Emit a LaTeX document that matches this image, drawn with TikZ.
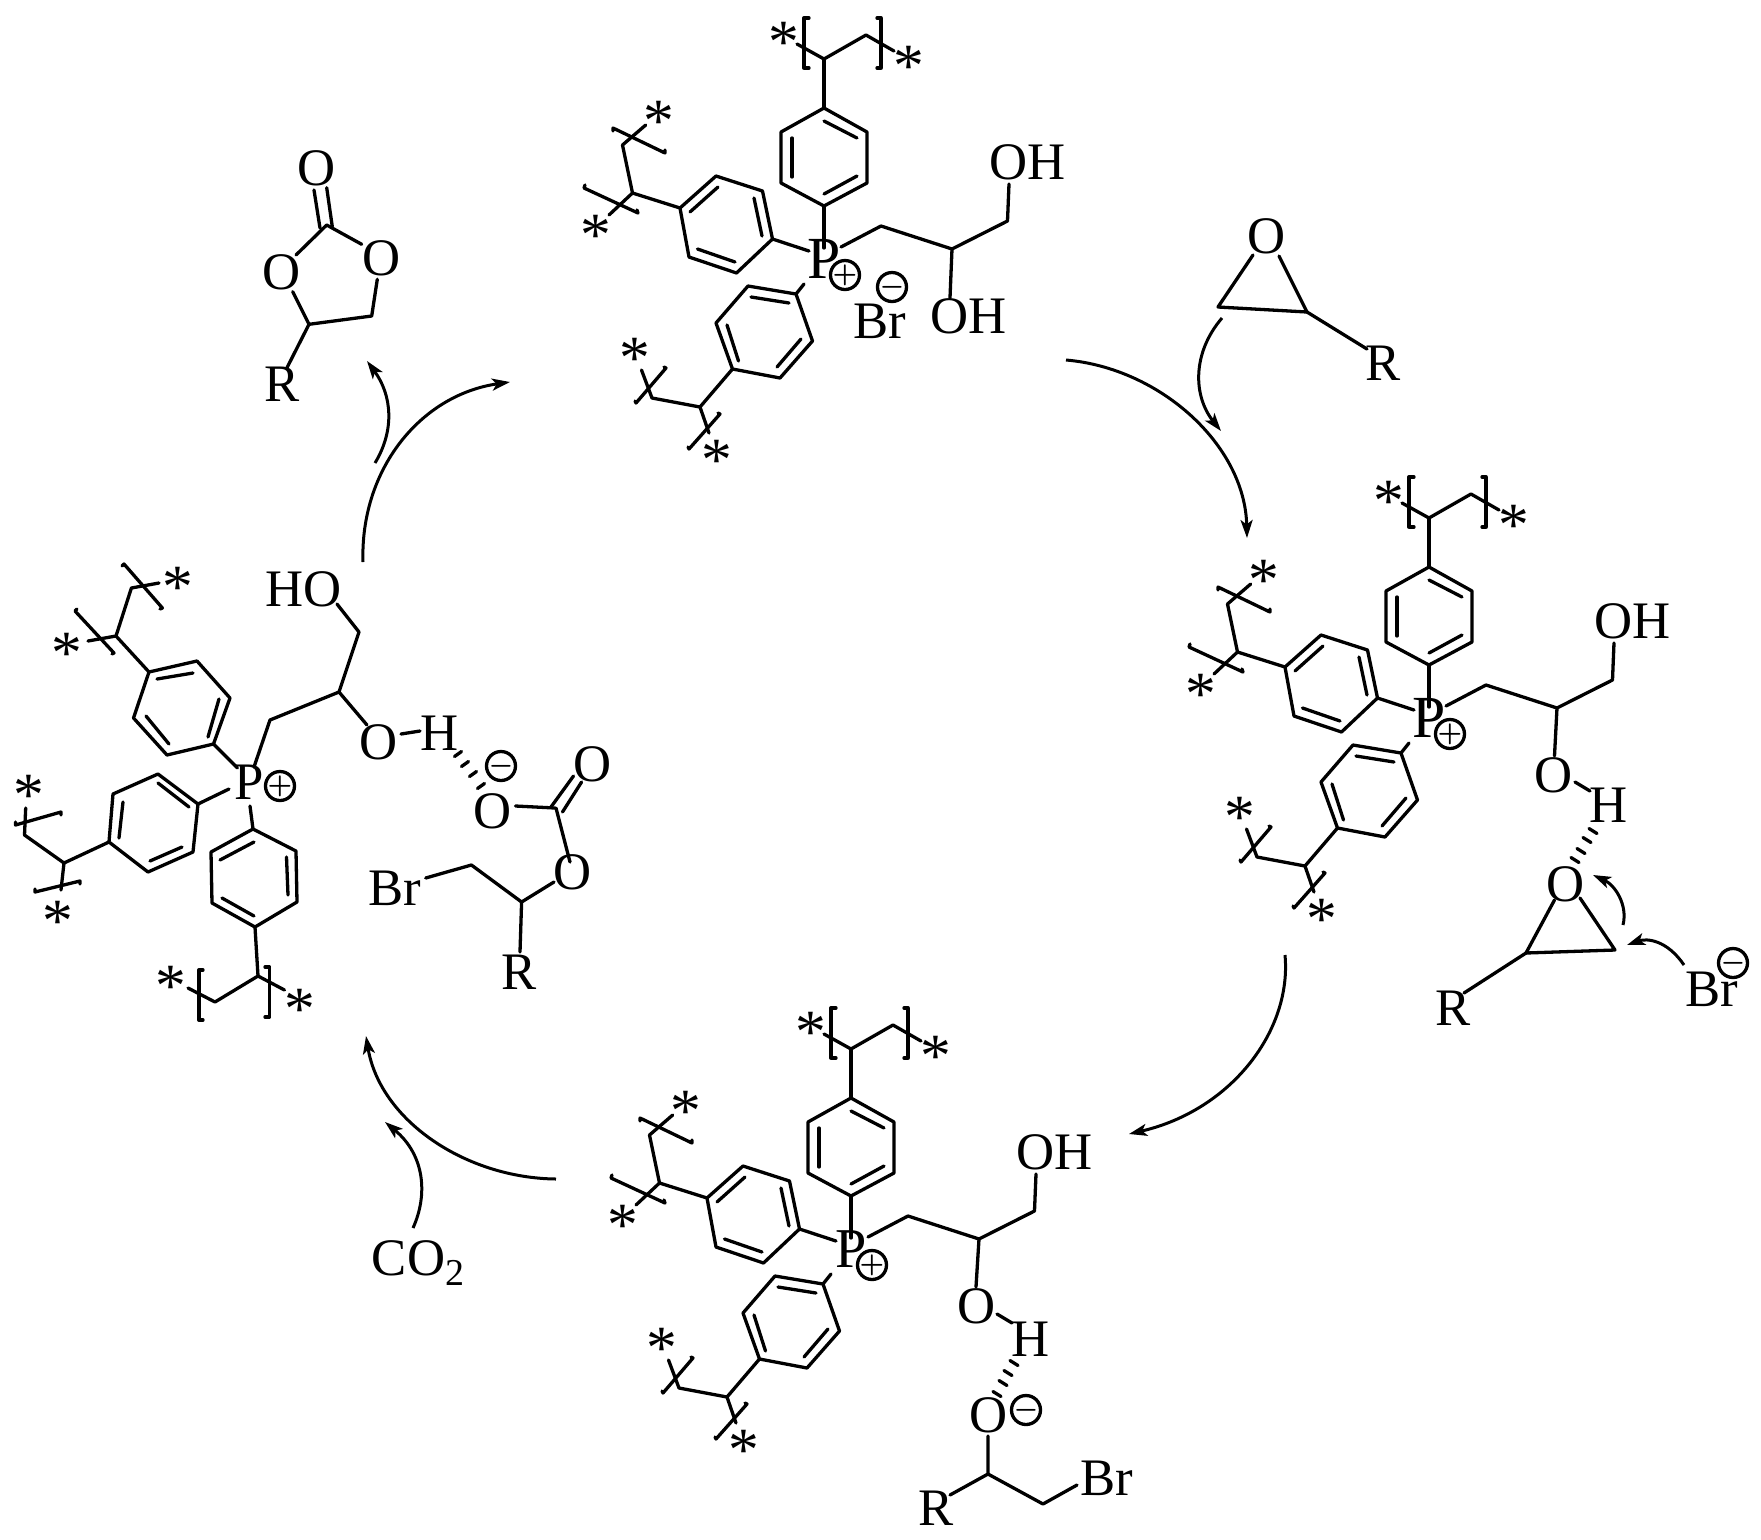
\documentclass[tikz,border=0pt]{standalone}
\usepackage{fontspec}
\setmainfont{Liberation Serif}
\usetikzlibrary{arrows.meta}
\tikzset{
  bond/.style={line width=0.33mm,line cap=round,line join=round},
  rxn/.style={line width=0.3mm,-{Stealth[length=1.8mm,width=1.2mm,inset=0.45mm]}},
  atom/.style={inner sep=0pt,font=\fontsize{15}{17}\selectfont},
  star/.style={inner sep=0pt,yshift=-0.9mm,font=\fontsize{17.5}{20}\selectfont},
  charge/.style={circle,draw,line width=0.33mm,inner sep=-2pt,minimum size=2.9mm,font=\fontsize{7.5}{9}\selectfont\boldmath}
}
\newcommand{\phosunit}[3]{%
  \begin{scope}[shift={(#2)}]
    \draw[bond] (797,44) -- (824,59) -- (866,35) -- (894,51);
    \draw[bond] (809,18) -- (804,18) -- (804,68) -- (809,68);
    \draw[bond] (877,18) -- (881,18) -- (881,68) -- (877,68);
    \draw[bond] (824,59) -- (824,108);
    \draw[bond] (824,108) -- (867,132) -- (867,183) -- (824,206) -- (781,183) -- (781,132) -- cycle;
    \draw[bond] (824,121) -- (857,138);
    \draw[bond] (857,176) -- (824,194);
    \draw[bond] (792,138) -- (792,177);
    \draw[bond] (824,206) -- (824,248);
    \draw[bond] (809,251) -- (772.5,239);
    \draw[bond] (772.5,239) -- (762.5,191) -- (716,176) -- (680,208) -- (689,257) -- (736.5,273) -- cycle;
    \draw[bond] (754,198) -- (762,236);
    \draw[bond] (697.5,249) -- (735,262);
    \draw[bond] (690,212) -- (718,187);
    \draw[bond] (680,208) -- (632.5,193);
    \draw[bond] (609,215) -- (632.5,193) -- (622.5,145) -- (645.7,125);
    \draw[bond] (585,185) -- (584,188) -- (638,213) -- (637,210);
    \draw[bond] (613,131) -- (613,128) -- (665,153) -- (665,150);
    \draw[bond] (804,284) -- (796,294);
    \draw[bond] (796,294) -- (748,286) -- (716,323) -- (732.5,369) -- (780,378) -- (812.5,341) -- cycle;
    \draw[bond] (751,297) -- (789,303);
    \draw[bond] (727,325) -- (738.5,361);
    \draw[bond] (777,367) -- (801,339);
    \draw[bond] (732.5,369) -- (700,407) -- (652,398) -- (641.5,370);
    \draw[bond] (700,407) -- (709,433);
    \draw[bond] (635,401) -- (636,403) -- (666,368) -- (664,367);
    \draw[bond] (688,447) -- (689,449) -- (720,414) -- (718,413);
    \draw[bond] (841,247) -- (881,226) -- (952,249) -- (1007.5,221) -- (1009,184);
    \node[star] (#1stara) at (784,33) {*};
    \node[star] (#1starb) at (909,57) {*};
    \node[star] (#1starc) at (659,112) {*};
    \node[star] (#1stard) at (596,226) {*};
    \node[star] (#1stare) at (635,349) {*};
    \node[star] (#1starf) at (717,451) {*};
    \node[atom,font=\fontsize{#3}{20}\selectfont] (#1P) at (824,259) {P};
    \node[charge] (#1plus) at (845,275) {$+$};
    \node[atom] (#1OH) at (1028,162) {OH};
  \end{scope}}
\begin{document}
\begin{tikzpicture}[x=0.1mm,y=-0.1mm]
  \useasboundingbox (0,0) rectangle (1761,1539);
  \phosunit{top}{0,0}{17}
  \phosunit{right}{605,459}{17}
  \phosunit{bot}{27,990}{16}
  % top unit
  \draw[bond] (952,249) -- (950,298);
  \node[atom] (topOHb) at (969,316) {OH};
  \node[atom] (topBr) at (880,321) {Br};
  \node[charge] (topminus) at (892,287) {$-$};
  % epoxide
  \node[atom] (epoO) at (1267,236) {O};
  \node[atom] (epoR) at (1383,363) {R};
  \draw[bond] (1253,255) -- (1218,307) -- (1307,312) -- (1279,256);
  \draw[bond] (1307,312) -- (1367,349);
  % right unit
  \draw[bond] (1557,708) -- (1554.5,756);
  \node[atom] (rightO) at (1554,775) {O};
  \node[atom] (rightH) at (1609,805) {H};
  \draw[bond] (1575,782) -- (1590,791);
  \foreach \px/\py in {1593/831,1587/840,1581/851,1575/860}
    \draw[bond] (\px-4,\py-2.5) -- (\px+4,\py+2.5);
  \node[atom] (rightepoO) at (1566,884) {O};
  \node[atom] (rightepoR) at (1453,1008) {R};
  \node[atom] (rightBr) at (1712,989) {Br};
  \node[charge] (rightminus) at (1733,963) {$-$};
  \draw[bond] (1554.5,900) -- (1526,953) -- (1615,950) -- (1580,898);
  \draw[bond] (1526,953) -- (1464,993);
  % bottom unit
  \draw[bond] (979,1239) -- (976,1287);
  \node[atom] (botO) at (977,1306) {O};
  \node[atom] (botH) at (1031,1339) {H};
  \draw[bond] (997,1314) -- (1012,1323);
  \foreach \px/\py in {1014/1363,1008/1373,1003/1383,997/1394}
    \draw[bond] (\px-4,\py-2.5) -- (\px+4,\py+2.5);
  \node[atom] (botOb) at (989,1415) {O};
  \node[charge] (botminus) at (1026,1410) {$-$};
  \node[atom] (botR) at (936,1508) {R};
  \node[atom] (botBr) at (1107,1478) {Br};
  \draw[bond] (988,1436) -- (988,1474) -- (950,1495);
  \draw[bond] (988,1474) -- (1043,1504) -- (1077,1485);
  % left unit
  \draw[bond] (237.5,768) -- (213.5,744);
  \draw[bond] (213.5,744) -- (230,698) -- (197,661) -- (149,672) -- (133.5,718) -- (167,755) -- cycle;
  \draw[bond] (208,737) -- (219,699);
  \draw[bond] (157,679) -- (193,673);
  \draw[bond] (146,716) -- (169,744);
  \draw[bond] (149,672) -- (116,636) -- (131.4,588) -- (159,583);
  \draw[bond] (116,636) -- (88,641);
  \draw[bond] (122,566) -- (124,564) -- (162.4,608) -- (160,609);
  \draw[bond] (77,609) -- (75,611) -- (114,653) -- (112,654);
  \draw[bond] (229,789) -- (198,804);
  \draw[bond] (198,804) -- (158,774) -- (113,794) -- (109,842) -- (148,872) -- (193,852) -- cycle;
  \draw[bond] (158,783) -- (189,807);
  \draw[bond] (123,802) -- (119,838);
  \draw[bond] (150,861) -- (182,847);
  \draw[bond] (109,842) -- (64,863) -- (24.5,835) -- (25.7,808);
  \draw[bond] (64,863) -- (61,890);
  \draw[bond] (15.5,822) -- (15.5,825) -- (61,812) -- (61,815);
  \draw[bond] (35,889) -- (35,892) -- (80,881) -- (80,884);
  \draw[bond] (250,806) -- (253,829);
  \draw[bond] (253,829) -- (296,851) -- (297,902) -- (255,927) -- (212,903) -- (211,852) -- cycle;
  \draw[bond] (220,860) -- (254,842);
  \draw[bond] (286.5,857) -- (288,895);
  \draw[bond] (222,898) -- (254,916);
  \draw[bond] (255,927) -- (258,976) -- (215,1002) -- (188,988);
  \draw[bond] (258,976) -- (284.5,990);
  \draw[bond] (203,970) -- (199,970) -- (199,1020) -- (203,1020);
  \draw[bond] (265,967) -- (269.5,967) -- (269.5,1017) -- (265,1017);
  \draw[bond] (254,767) -- (270,720) -- (339,692) -- (359,632) -- (337,604);
  \draw[bond] (339,692) -- (367,725);
  \draw[bond] (401,734) -- (420,731);
  \foreach \px/\py in {458/754,465/764,473/774,481/786}
    \draw[bond] (\px-3.5,\py+2.5) -- (\px+3.5,\py-2.5);
  \draw[bond] (515.5,806) -- (555,808);
  \draw[bond] (551,807) -- (573.5,776);
  \draw[bond] (562.5,812) -- (581.6,782);
  \draw[bond] (556,808) -- (570,862);
  \draw[bond] (554,882) -- (521.6,902) -- (471.4,865) -- (425.7,878);
  \draw[bond] (521.6,902) -- (520,952);
  \node[star] (leftstara) at (178,578) {*};
  \node[star] (leftstarb) at (67,644) {*};
  \node[star] (leftstarc) at (28.6,786) {*};
  \node[star] (leftstard) at (58,912) {*};
  \node[star] (leftstare) at (171,977) {*};
  \node[star] (leftstarf) at (300,1000) {*};
  \node[atom] (leftP) at (249,782) {P};
  \node[charge] (leftplus) at (280,786) {$+$};
  \node[atom] (leftHO) at (304,589) {HO};
  \node[atom] (leftO) at (379,742) {O};
  \node[atom] (leftH) at (440,733) {H};
  \node[charge] (leftminus) at (501,766) {$-$};
  \node[atom] (carbOa) at (493,811) {O};
  \node[atom] (carbOb) at (593,764) {O};
  \node[atom] (carbOc) at (573,872) {O};
  \node[atom] (leftBr) at (395,888) {Br};
  \node[atom] (leftR) at (519,972) {R};
  % cyclic carbonate
  \node[atom] (cycOa) at (317,168) {O};
  \node[atom] (cycOb) at (282,272) {O};
  \node[atom] (cycOc) at (382,258) {O};
  \node[atom] (cycR) at (281.7,384) {R};
  \draw[bond] (314,190) -- (320,228);
  \draw[bond] (326.7,187.7) -- (332.3,226.7);
  \draw[bond] (296,255) -- (326.7,225) -- (361.7,244.3);
  \draw[bond] (377.3,279.3) -- (371.7,316) -- (309,324.3) -- (292.7,291.7);
  \draw[bond] (309,324.3) -- (286.7,368.3);
  % CO2
  \node[atom] (cotwo) at (418,1263) {CO\raisebox{-3pt}{\fontsize{10.8}{12}\selectfont 2}};
  % arrows
  \coordinate (ta) at (1066,360);
  \coordinate (tb) at (1247,538);
  \draw[rxn] (ta) .. controls (1160,368) and (1245,445) .. (tb);
  \coordinate (ua) at (1222,318);
  \coordinate (ub) at (1221,431);
  \draw[rxn] (ua) .. controls (1192,353) and (1193,396) .. (ub);
  \coordinate (ra) at (1285,955);
  \coordinate (rb) at (1129,1134);
  \draw[rxn] (ra) .. controls (1292,1030) and (1232,1110) .. (rb);
  \coordinate (ba) at (556,1179);
  \coordinate (bb) at (366,1036);
  \draw[rxn] (ba) .. controls (465,1178) and (380,1120) .. (bb);
  \coordinate (ca) at (413,1228);
  \coordinate (cb) at (385,1122);
  \draw[rxn] (ca) .. controls (428,1195) and (425,1155) .. (cb);
  \coordinate (la) at (363,562);
  \coordinate (lb) at (510,382);
  \draw[rxn] (la) .. controls (360,470) and (420,395) .. (lb);
  \coordinate (pa) at (375,463);
  \coordinate (pb) at (367,361);
  \draw[rxn] (pa) .. controls (395,430) and (392,395) .. (pb);
  \coordinate (ea) at (1623,925);
  \coordinate (eb) at (1593,875);
  \draw[rxn] (ea) .. controls (1628,905) and (1615,885) .. (eb);
  \coordinate (fa) at (1684,965);
  \coordinate (fb) at (1627,945);
  \draw[rxn] (fa) .. controls (1667,940) and (1647,938) .. (fb);
\end{tikzpicture}
\end{document}
